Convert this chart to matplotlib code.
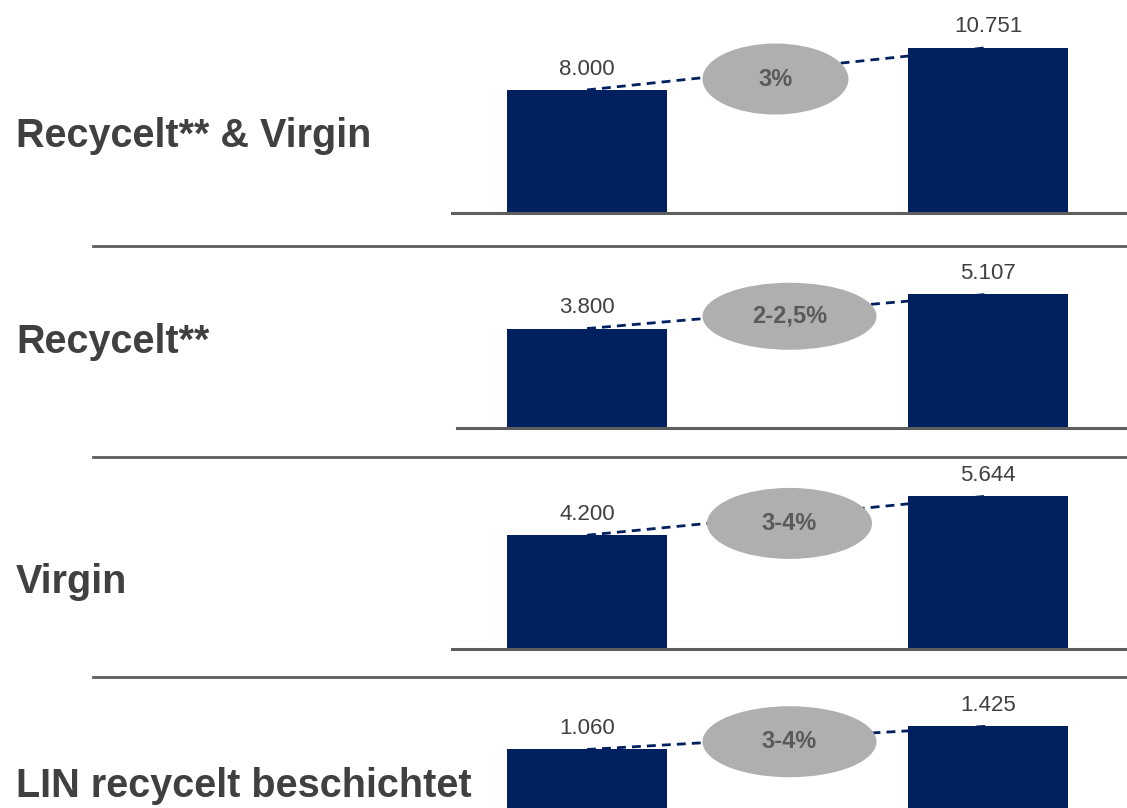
import numpy as np
import matplotlib
matplotlib.use("Agg")
import matplotlib.pyplot as plt
from matplotlib.patches import Ellipse
from matplotlib.lines import Line2D

# chart data
row_labels = ["Recycelt** & Virgin", "Recycelt**", "Virgin", "LIN recycelt beschichtet"]
values_start = [8000, 3800, 4200, 1060]
values_end = [10751, 5107, 5644, 1425]
value_texts_start = ["8.000", "3.800", "4.200", "1.060"]
value_texts_end = ["10.751", "5.107", "5.644", "1.425"]
growth_texts = ["3%", "2-2,5%", "3-4%", "3-4%"]

# layout (pixels of the 1127x808 canvas)
W, H = 1127, 808
row_top_px = [0, 250, 462, 682]
row_base_px = [213, 428, 649, 817]
row_unit_per_px = [65.0, 38.2, 36.9, 15.7]
row_axis_left_px = [452, 457, 452, 452]
label_base_px = [147, 353, 593, 797]
separator_px = [246, 457, 677]
ell_x = [0.47, 0.505, 0.505, 0.505]      # in bar units (0 = first bar, 1 = second)
ell_dy_px = [9, 5, 8, 4]
ell_w_px = [146, 174, 165, 174]
ell_h_px = [71, 67, 71, 71]

NAVY = "#00205F"
GREY_TEXT = "#404040"
PCT_TEXT = "#5A5A5A"
ELL_COLOR = "#AFAFAF"
LINE_COLOR = "#5E5E5E"

bar_center0 = 587
bar_step = 401           # px between the two bar centers
bar_width = 160 / bar_step

plt.rcParams['font.family'] = ['Liberation Sans', 'DejaVu Sans']

fig = plt.figure(figsize=(W / 100, H / 100), dpi=100)

for i in range(4):
    left = row_axis_left_px[i]
    bottom = row_base_px[i]
    top = row_top_px[i]
    ax = fig.add_axes([left / W, 1 - bottom / H, (W - left) / W, (bottom - top) / H])
    upp = row_unit_per_px[i]
    ax.set_ylim(0, (bottom - top) * upp)
    x0 = -(bar_center0 - left) / bar_step
    x1 = 1 + (W - (bar_center0 + bar_step)) / bar_step
    ax.set_xlim(x0, x1)
    ax.axis("off")

    vals = [values_start[i], values_end[i]]
    ax.bar([0, 1], vals, width=bar_width, color=NAVY, zorder=2, clip_on=False)
    ax.axhline(0, color=LINE_COLOR, lw=2.2, zorder=3, clip_on=False)

    # dashed connector between the bar tops
    ax.plot([0, 1], vals, color=NAVY, lw=2, dashes=(3.2, 2.2), zorder=3)

    # growth ellipse
    mid = vals[0] + (vals[1] - vals[0]) * ell_x[i]
    ey = mid - ell_dy_px[i] * upp
    ell = Ellipse((ell_x[i], ey), ell_w_px[i] / bar_step, ell_h_px[i] * upp,
                  facecolor=ELL_COLOR, edgecolor="none", zorder=4)
    ax.add_patch(ell)
    ax.text(ell_x[i], ey, growth_texts[i], ha="center", va="center",
            fontsize=17, fontweight="bold", color=PCT_TEXT, zorder=5)

    # value labels
    for xb, v, t in zip([0, 1], vals, [value_texts_start[i], value_texts_end[i]]):
        ax.annotate(t, (xb, v), xytext=(0, 11), textcoords="offset points",
                    ha="center", va="baseline", fontsize=16, color=GREY_TEXT)

    # row label
    fig.text(16 / W, 1 - label_base_px[i] / H, row_labels[i], ha="left",
             va="baseline", fontsize=28.5, fontweight="bold", color=GREY_TEXT)

for y in separator_px:
    fig.add_artist(Line2D([93 / W, 1], [1 - y / H, 1 - y / H], color=LINE_COLOR,
                          lw=2, transform=fig.transFigure))

fig.savefig("out.png", dpi=100)
